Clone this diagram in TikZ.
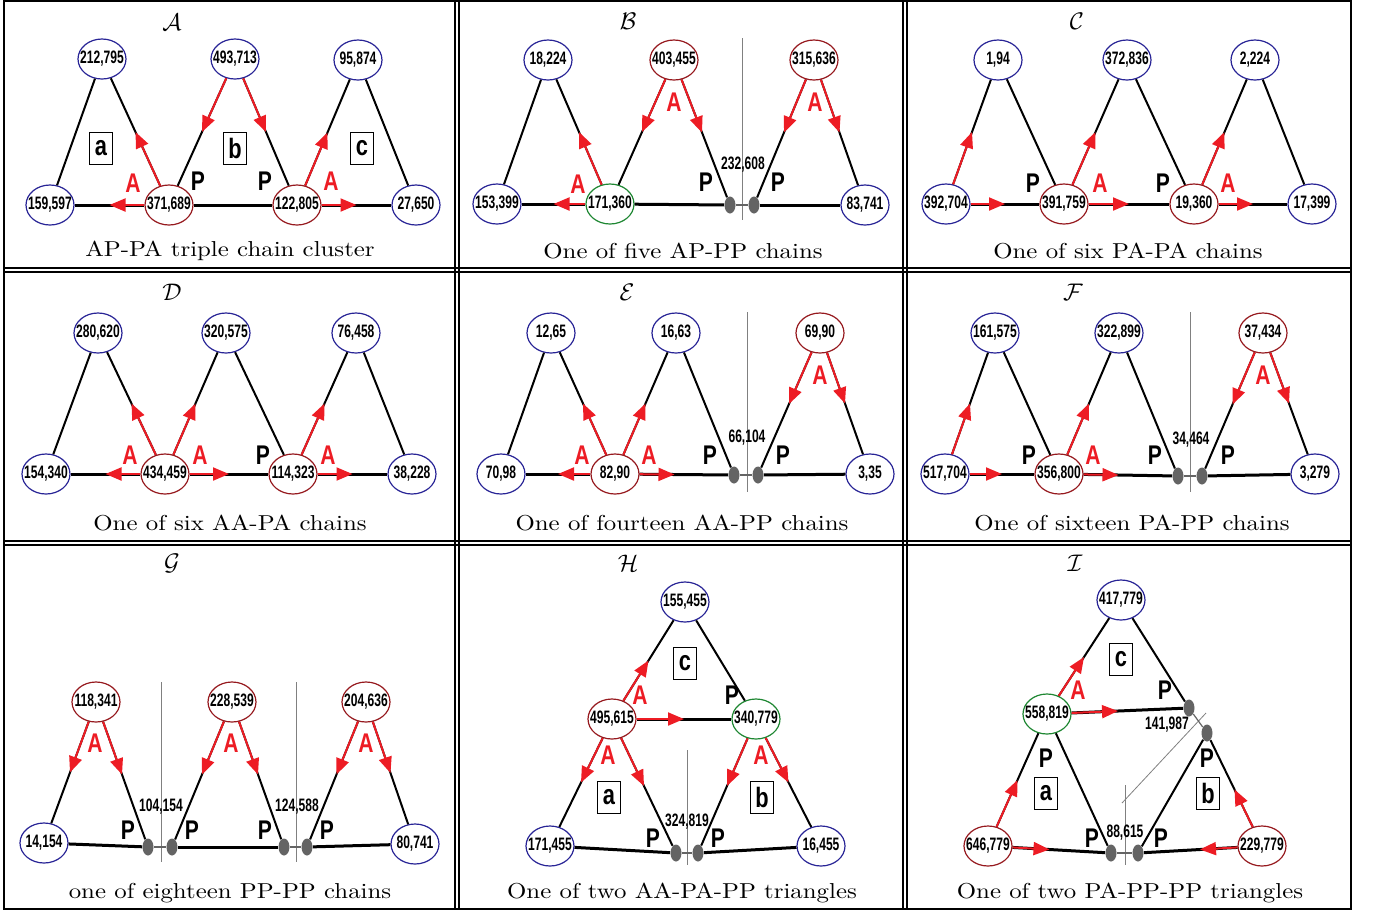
\documentclass[tikz,border=0pt]{standalone}
\usepackage{fontspec}
\usetikzlibrary{shapes.geometric,arrows.meta,calc}
\newfontfamily\numf[FakeStretch=0.67]{Liberation Sans Bold}
\newfontfamily\labf[FakeStretch=0.78]{Liberation Sans Bold}
\newfontfamily\capf[FakeStretch=1.15]{Latin Modern Roman}
\definecolor{nblue}{RGB}{40,36,150}
\definecolor{ndred}{RGB}{150,25,30}
\definecolor{ngreen}{RGB}{30,135,50}
\definecolor{rcol}{RGB}{237,28,36}
\definecolor{dgray}{RGB}{100,100,100}
\newcommand\halfarrow[3][blk]{\draw[#1] (#2) -- (#3); \draw[rarr] (#2) -- ($(#2)!0.5!(#3)$);}
\tikzset{
 num/.style={ellipse, draw, line width=0.6pt, inner sep=0pt, minimum width=24pt, minimum height=20pt, font=\numf\fontsize{9}{9}\selectfont, fill=white,
   execute at begin node={\hbox to 0pt\bgroup\hss}, execute at end node={\hss\egroup}},
 nb/.style={num, draw=nblue},
 nr/.style={num, draw=ndred},
 ng/.style={num, draw=ngreen},
 pd/.style={ellipse, fill=dgray, minimum width=5.5pt, minimum height=8.5pt, inner sep=0pt},
 blk/.style={line width=1pt, black},
 bline/.style={line width=1.5pt, black},
 rarr/.style={line width=1pt, rcol, -{Triangle[length=8pt,width=6.5pt]}},
 pp/.style={dgray, line width=0.6pt},
 vsep/.style={gray, line width=0.4pt},
 la/.style={font=\labf\fontsize{13.5}{13.5}\selectfont, text=rcol},
 lp/.style={font=\labf\fontsize{13.5}{13.5}\selectfont},
 bx/.style={draw, line width=0.5pt, minimum width=11.5pt, minimum height=16pt, inner sep=0pt, font=\labf\fontsize{14}{14}\selectfont},
 capt/.style={font=\capf\fontsize{10.8}{11}\selectfont},
 ttl/.style={font=\fontsize{12}{12}\selectfont},
 dl/.style={font=\numf\fontsize{9}{9}\selectfont},
 frame/.style={line width=1pt, black}
}
\begin{document}
\begin{tikzpicture}[x=0.5pt,y=-0.5pt]
\useasboundingbox (0,0) rectangle (1377,918);
% frame
\draw[frame] (4,1) rectangle (1351,909);
\foreach \x in {455,459,903,907} \draw[frame] (\x,1) -- (\x,909);
\foreach \y in {268,272,541,545} \draw[frame] (4,\y) -- (1351,\y);

% ---------- A ----------
\node[ttl] (at) at (172,22) {$\mathcal{A}$};
\node[nb] (a1) at (102,59) {212,795};
\node[nb] (a2) at (235,59) {493,713};
\node[nb] (a3) at (358,60) {95,874};
\node[nb] (a4) at (50,205) {159,597};
\node[nr] (a5) at (169,205) {371,689};
\node[nr] (a6) at (297,205) {122,805};
\node[nb] (a7) at (416,205) {27,650};
\draw[blk] (a1) -- (a4);
\halfarrow{a5}{a1}
\halfarrow[bline]{a5}{a4}
\halfarrow{a2}{a5}
\halfarrow{a2}{a6}
\draw[bline] (a5) -- (a6);
\halfarrow{a6}{a3}
\draw[blk] (a3) -- (a7);
\halfarrow[bline]{a6}{a7}
\node[bx] (abxa) at (101,148) {a};
\node[bx] (abxb) at (235,148) {b};
\node[bx] (abxc) at (362,148) {c};
\node[la] (aA1) at (133,183) {A};
\node[la] (aA2) at (331,181) {A};
\node[lp] (aP1) at (198,181) {P};
\node[lp] (aP2) at (265,181) {P};
\node[capt] (acap) at (230,251) {AP-PA triple chain cluster};

% ---------- B ----------
\node[ttl] (bt) at (628,21) {$\mathcal{B}$};
\node[nb] (b1) at (548,60) {18,224};
\node[nr] (b2) at (674,60) {403,455};
\node[nr] (b3) at (814,60) {315,636};
\node[nb] (b4) at (497,204) {153,399};
\node[ng] (b5) at (610,204) {171,360};
\node[pd] (b6) at (730,205) {};
\node[pd] (b7) at (754,205) {};
\node[nb] (b8) at (865,205) {83,741};
\draw[vsep] (742,38) -- (742,220);
\draw[blk] (b1) -- (b4);
\halfarrow{b5}{b1}
\halfarrow[bline]{b5}{b4}
\halfarrow{b2}{b5}
\halfarrow{b2}{b6}
\draw[bline] (b5) -- (b6);
\draw[pp] (b6) -- (b7);
\halfarrow{b3}{b7}
\halfarrow{b3}{b8}
\draw[bline] (b7) -- (b8);
\node[dl] (bd) at (743,165) {232,608};
\node[la] (bA1) at (578,184) {A};
\node[la] (bA2) at (674,102) {A};
\node[la] (bA3) at (815,102) {A};
\node[lp] (bP1) at (706,182) {P};
\node[lp] (bP2) at (778,182) {P};
\node[capt] (bcap) at (683,251) {One of five AP-PP chains};

% ---------- C ----------
\node[ttl] (ct) at (1077,21) {$\mathcal{C}$};
\node[nb] (c1) at (998,60) {1,94};
\node[nb] (c2) at (1127,60) {372,836};
\node[nb] (c3) at (1255,60) {2,224};
\node[nb] (c4) at (946,204) {392,704};
\node[nr] (c5) at (1064,204) {391,759};
\node[nr] (c6) at (1194,204) {19,360};
\node[nb] (c7) at (1312,204) {17,399};
\halfarrow{c4}{c1}
\draw[blk] (c1) -- (c5);
\halfarrow[bline]{c4}{c5}
\halfarrow{c5}{c2}
\draw[blk] (c2) -- (c6);
\halfarrow[bline]{c5}{c6}
\halfarrow{c6}{c3}
\draw[blk] (c3) -- (c7);
\halfarrow[bline]{c6}{c7}
\node[la] (cA1) at (1100,183) {A};
\node[la] (cA2) at (1228,183) {A};
\node[lp] (cP1) at (1033,183) {P};
\node[lp] (cP2) at (1163,183) {P};
\node[capt] (ccap) at (1128,251) {One of six PA-PA chains};

% ---------- D ----------
\node[ttl] (dt) at (172,292) {$\mathcal{D}$};
\node[nb] (d1) at (98,333) {280,620};
\node[nb] (d2) at (226,333) {320,575};
\node[nb] (d3) at (356,333) {76,458};
\node[nb] (d4) at (46,474) {154,340};
\node[nr] (d5) at (165,474) {434,459};
\node[nr] (d6) at (293,474) {114,323};
\node[nb] (d7) at (412,474) {38,228};
\draw[blk] (d1) -- (d4);
\halfarrow{d5}{d1}
\halfarrow[bline]{d5}{d4}
\halfarrow{d5}{d2}
\draw[blk] (d2) -- (d6);
\halfarrow[bline]{d5}{d6}
\halfarrow{d6}{d3}
\draw[blk] (d3) -- (d7);
\halfarrow[bline]{d6}{d7}
\node[la] (dA1) at (130,455) {A};
\node[la] (dA2) at (200,455) {A};
\node[la] (dA3) at (328,455) {A};
\node[lp] (dP1) at (263,455) {P};
\node[capt] (dcap) at (230,523) {One of six AA-PA chains};

% ---------- E ----------
\node[ttl] (et) at (627,292) {$\mathcal{E}$};
\node[nb] (e1) at (551,333) {12,65};
\node[nb] (e2) at (676,333) {16,63};
\node[nr] (e3) at (820,333) {69,90};
\node[nb] (e4) at (501,474) {70,98};
\node[nr] (e5) at (615,474) {82,90};
\node[pd] (e6) at (734,475) {};
\node[pd] (e7) at (758,475) {};
\node[nb] (e8) at (870,474) {3,35};
\draw[vsep] (747,312) -- (747,492);
\draw[blk] (e1) -- (e4);
\halfarrow{e5}{e1}
\halfarrow[bline]{e5}{e4}
\halfarrow{e5}{e2}
\draw[blk] (e2) -- (e6);
\halfarrow[bline]{e5}{e6}
\draw[pp] (e6) -- (e7);
\halfarrow{e3}{e7}
\halfarrow{e3}{e8}
\draw[bline] (e7) -- (e8);
\node[dl] (ed) at (747,438) {66,104};
\node[la] (eA1) at (582,455) {A};
\node[la] (eA2) at (649,455) {A};
\node[la] (eA3) at (820,375) {A};
\node[lp] (eP1) at (710,455) {P};
\node[lp] (eP2) at (783,455) {P};
\node[capt] (ecap) at (682,523) {One of fourteen AA-PP chains};

% ---------- F ----------
\node[ttl] (ft) at (1073,292) {$\mathcal{F}$};
\node[nb] (f1) at (995,333) {161,575};
\node[nb] (f2) at (1119,333) {322,899};
\node[nr] (f3) at (1263,333) {37,434};
\node[nb] (f4) at (945,474) {517,704};
\node[nr] (f5) at (1059,474) {356,800};
\node[pd] (f6) at (1178,476) {};
\node[pd] (f7) at (1202,476) {};
\node[nb] (f8) at (1315,474) {3,279};
\draw[vsep] (1190,312) -- (1190,492);
\halfarrow{f4}{f1}
\draw[blk] (f1) -- (f5);
\halfarrow[bline]{f4}{f5}
\halfarrow{f5}{f2}
\draw[blk] (f2) -- (f6);
\halfarrow[bline]{f5}{f6}
\draw[pp] (f6) -- (f7);
\halfarrow{f3}{f7}
\halfarrow{f3}{f8}
\draw[bline] (f7) -- (f8);
\node[dl] (fd) at (1191,440) {34,464};
\node[la] (fA1) at (1093,455) {A};
\node[la] (fA2) at (1263,375) {A};
\node[lp] (fP1) at (1029,455) {P};
\node[lp] (fP2) at (1155,455) {P};
\node[lp] (fP3) at (1228,455) {P};
\node[capt] (fcap) at (1132,523) {One of sixteen PA-PP chains};

% ---------- G ----------
\node[ttl] (gt) at (172,563) {$\mathcal{G}$};
\node[nr] (g1) at (96,702) {118,341};
\node[nr] (g2) at (232,702) {228,539};
\node[nr] (g3) at (366,702) {204,636};
\node[nb] (g4) at (44,843) {14,154};
\node[pd] (g5) at (148,847) {};
\node[pd] (g6) at (172,847) {};
\node[pd] (g7) at (284,847) {};
\node[pd] (g8) at (307,847) {};
\node[nb] (g9) at (415,844) {80,741};
\draw[vsep] (161,682) -- (161,862);
\draw[vsep] (296,682) -- (296,862);
\halfarrow{g1}{g4}
\halfarrow{g1}{g5}
\draw[bline] (g4) -- (g5);
\draw[pp] (g5) -- (g6);
\halfarrow{g2}{g6}
\halfarrow{g2}{g7}
\draw[bline] (g6) -- (g7);
\draw[pp] (g7) -- (g8);
\halfarrow{g3}{g8}
\halfarrow{g3}{g9}
\draw[bline] (g8) -- (g9);
\node[dl] (gd1) at (161,807) {104,154};
\node[dl] (gd2) at (297,807) {124,588};
\node[la] (gA1) at (95,743) {A};
\node[la] (gA2) at (231,743) {A};
\node[la] (gA3) at (366,743) {A};
\node[lp] (gP1) at (128,830) {P};
\node[lp] (gP2) at (192,830) {P};
\node[lp] (gP3) at (265,830) {P};
\node[lp] (gP4) at (327,830) {P};
\node[capt] (gcap) at (230,893) {one of eighteen PP-PP chains};

% ---------- H ----------
\node[ttl] (ht) at (628,563) {$\mathcal{H}$};
\node[nb] (h1) at (685,602) {155,455};
\node[nr] (h2) at (612,719) {495,615};
\node[ng] (h3) at (756,719) {340,779};
\node[nb] (h4) at (550,846) {171,455};
\node[pd] (h5) at (676,853) {};
\node[pd] (h6) at (698,853) {};
\node[nb] (h7) at (821,846) {16,455};
\draw[vsep] (687,750) -- (687,865);
\halfarrow{h2}{h1}
\draw[blk] (h1) -- (h3);
\halfarrow[bline]{h2}{h3}
\halfarrow{h2}{h4}
\halfarrow{h2}{h5}
\draw[bline] (h4) -- (h5);
\draw[pp] (h5) -- (h6);
\halfarrow{h3}{h6}
\halfarrow{h3}{h7}
\draw[bline] (h6) -- (h7);
\node[dl] (hd) at (687,822) {324,819};
\node[bx] (hbxc) at (685,663) {c};
\node[bx] (hbxa) at (609,797) {a};
\node[bx] (hbxb) at (762,797) {b};
\node[la] (hA1) at (640,695) {A};
\node[la] (hA2) at (608,755) {A};
\node[la] (hA3) at (761,755) {A};
\node[lp] (hP1) at (732,695) {P};
\node[lp] (hP2) at (653,838) {P};
\node[lp] (hP3) at (718,838) {P};
\node[capt] (hcap) at (682,893) {One of two AA-PA-PP triangles};

% ---------- I ----------
\node[ttl] (it) at (1075,563) {$\mathcal{I}$};
\node[nb] (i1) at (1121,600) {417,779};
\node[ng] (i2) at (1047,714) {558,819};
\node[pd] (i3) at (1189,708) {};
\node[pd] (i4) at (1207,733) {};
\node[nr] (i5) at (988,846) {646,779};
\node[pd] (i6) at (1111,853) {};
\node[pd] (i7) at (1138,853) {};
\node[nr] (i8) at (1262,846) {229,779};
\draw[vsep] (1125,785) -- (1125,865);
\draw[vsep] (1122,803) -- (1206,713);
\halfarrow{i2}{i1}
\draw[blk] (i1) -- (i3);
\halfarrow[bline]{i2}{i3}
\draw[pp] (i3) -- (i4);
\halfarrow{i5}{i2}
\draw[blk] (i2) -- (i6);
\halfarrow[bline]{i5}{i6}
\draw[pp] (i6) -- (i7);
\draw[blk] (i4) -- (i7);
\halfarrow{i8}{i4}
\halfarrow[bline]{i8}{i7}
\node[dl] (id1) at (1167,725) {141,987};
\node[dl] (id2) at (1125,833) {88,615};
\node[bx] (ibxc) at (1121,659) {c};
\node[bx] (ibxa) at (1046,793) {a};
\node[bx] (ibxb) at (1208,793) {b};
\node[la] (iA1) at (1078,690) {A};
\node[lp] (iP1) at (1165,690) {P};
\node[lp] (iP2) at (1046,758) {P};
\node[lp] (iP3) at (1207,758) {P};
\node[lp] (iP4) at (1092,838) {P};
\node[lp] (iP5) at (1161,838) {P};
\node[capt] (icap) at (1130,893) {One of two PA-PP-PP triangles};
\end{tikzpicture}
\end{document}
